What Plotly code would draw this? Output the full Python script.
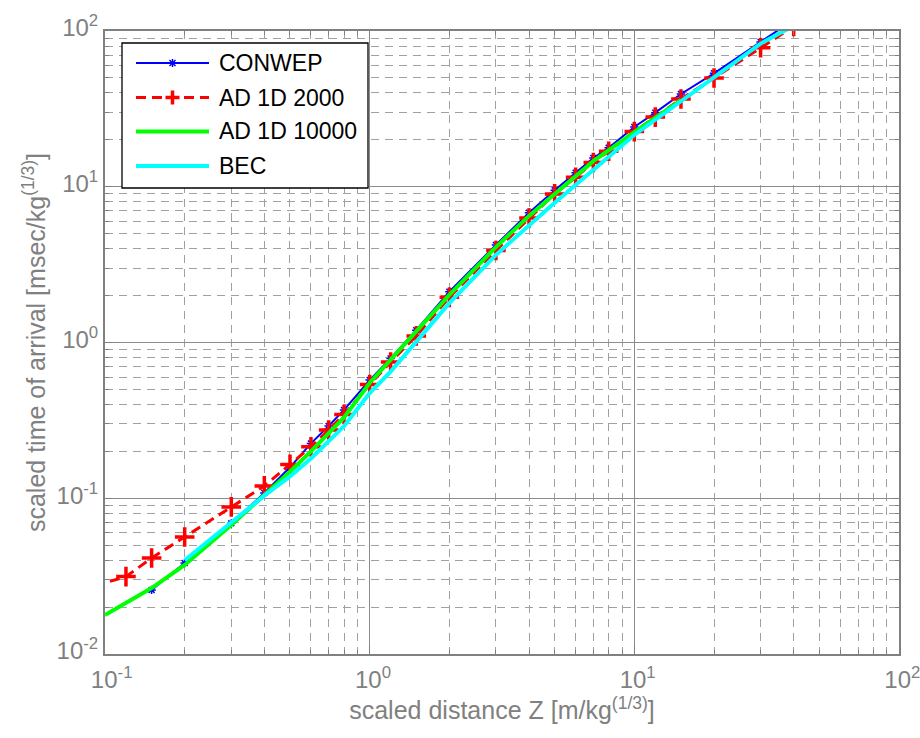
import plotly.graph_objects as go

# ---------------- data ----------------
conwep_x = [0.15, 0.2, 0.3, 0.4, 0.5, 0.6, 0.7, 0.8, 1.0, 1.2, 1.5, 2, 3, 4, 5, 6, 7, 8, 10, 12, 15, 20, 30, 40]
conwep_y = [0.0258, 0.0384, 0.069, 0.108, 0.158, 0.225, 0.291, 0.369, 0.574, 0.79, 1.2, 2.12, 4.23, 6.82, 9.5,
            12.3, 15.3, 17.8, 24.2, 29.9, 39.4, 53.5, 85, 118]

ad2000_x = [0.08, 0.12, 0.15, 0.2, 0.3, 0.4, 0.5, 0.6, 0.7, 0.8, 1.0, 1.2, 1.5, 2, 3, 4, 5, 6, 7, 8, 10, 12, 15, 20, 30, 40]
ad2000_y = [0.0255, 0.0314, 0.0413, 0.0564, 0.088, 0.12, 0.165, 0.214, 0.274, 0.345, 0.537, 0.75, 1.1, 1.95, 3.9,
            6.3, 9.0, 11.5, 14.3, 16.9, 22.6, 28, 36.6, 49.9, 78, 107]

ad10000_x = [0.1, 0.15, 0.2, 0.3, 0.4, 0.5, 0.6, 0.8, 1.0, 1.2, 1.5, 2, 3, 4, 5, 7, 10, 15]
ad10000_y = [0.0178, 0.0265, 0.0373, 0.0673, 0.105, 0.148, 0.2, 0.33, 0.55, 0.78, 1.18, 2.02, 4.1, 6.5, 9.0,
             14.6, 22.4, 36]

bec_x = [0.2, 0.3, 0.4, 0.5, 0.6, 0.8, 1.0, 1.2, 1.5, 2, 3, 5, 10, 20, 30, 40]
bec_y = [0.040, 0.0706, 0.104, 0.138, 0.18, 0.29, 0.474, 0.65, 1.02, 1.79, 3.65, 7.9, 21.5, 50.9, 83, 108]

series_names = ["CONWEP", "AD 1D 2000", "AD 1D 10000", "BEC"]

x_tickvals = [0.1, 1, 10, 100]
x_ticktext = ["&nbsp;&nbsp;10<sup>-1</sup>", "&nbsp;10<sup>0</sup>", "&nbsp;10<sup>1</sup>", "&nbsp;10<sup>2</sup>"]
y_tickvals = [0.01, 0.1, 1, 10, 100]
y_ticktext = ["10<sup>-2</sup>", "10<sup>-1</sup>", "10<sup>0</sup>", "10<sup>1</sup>", "10<sup>2</sup>"]

x_title = "scaled distance Z [m/kg<sup>(1/3)</sup>]"
y_title = "scaled time of arrival [msec/kg<sup>(1/3)</sup>]"

# ---------------- styling ----------------
FONT = "Liberation Sans, Arial, sans-serif"
GRAY = "#808080"
BLUE, RED, GREEN, CYAN = "#0000ff", "#ff0000", "#00ff00", "#00ffff"

minor_x = [m * d for d in (0.1, 1, 10) for m in range(2, 10)]
minor_y = [m * d for d in (0.01, 0.1, 1, 10) for m in range(2, 10)]

fig = go.Figure()
fig.add_trace(go.Scatter(x=conwep_x, y=conwep_y, mode="lines+markers", name=series_names[0],
                         line=dict(color=BLUE, width=2),
                         marker=dict(symbol="asterisk-open", size=7, line=dict(color=BLUE, width=1.5))))
fig.add_trace(go.Scatter(x=ad2000_x, y=ad2000_y, mode="lines+markers", name=series_names[1],
                         line=dict(color=RED, width=3, dash="10px,6px"),
                         marker=dict(symbol="cross-thin-open", size=14, line=dict(color=RED, width=3.5))))
fig.add_trace(go.Scatter(x=ad10000_x, y=ad10000_y, mode="lines", name=series_names[2],
                         line=dict(color=GREEN, width=4)))
fig.add_trace(go.Scatter(x=bec_x, y=bec_y, mode="lines", name=series_names[3],
                         line=dict(color=CYAN, width=4)))

axis_common = dict(
    type="log", showline=True, linecolor=GRAY, linewidth=2, mirror="allticks",
    ticks="inside", ticklen=8, tickwidth=1, tickcolor=GRAY,
    showgrid=True, gridcolor="#8c8c8c", gridwidth=1,
    tickfont=dict(family=FONT, size=24, color=GRAY),
    zeroline=False, ticklabeloverflow="allow", automargin=False,
)

fig.update_xaxes(**axis_common, range=[-1, 2], tickmode="array", tickvals=x_tickvals, ticktext=x_ticktext,
                 ticklabelstandoff=3,
                 minor=dict(tickmode="array", tickvals=minor_x, ticks="inside", ticklen=4, tickcolor=GRAY,
                            showgrid=True, gridcolor="#a0a0a0", griddash="8px,6px", gridwidth=1),
                 title=dict(text=x_title, font=dict(family=FONT, size=25, color=GRAY), standoff=10))
fig.update_yaxes(**axis_common, range=[-2, 2], tickmode="array", tickvals=y_tickvals, ticktext=y_ticktext,
                 ticklabelshift=-3,
                 minor=dict(tickmode="array", tickvals=minor_y, ticks="inside", ticklen=4, tickcolor=GRAY,
                            showgrid=True, gridcolor="#a0a0a0", griddash="8px,6px", gridwidth=1),
                 title=dict(text=y_title, font=dict(family=FONT, size=25, color=GRAY), standoff=4))

# ---------------- custom legend (MATLAB style) ----------------
PX0, PX1, PY0, PY1 = 105, 899, 31, 654


def px(x):
    return (x - PX0) / (PX1 - PX0)


def py(y):
    return (PY1 - y) / (PY1 - PY0)


shapes = [dict(type="rect", xref="paper", yref="paper", x0=px(122), x1=px(368), y0=py(188), y1=py(43),
               line=dict(color="black", width=1.3), fillcolor="white", layer="above")]
annotations = []
row_y = [63, 97.5, 131.5, 166]
styles = [dict(color=BLUE, width=2), dict(color=RED, width=3, dash="10px,6px"),
          dict(color=GREEN, width=4), dict(color=CYAN, width=4)]
for i, name in enumerate(series_names):
    yc = row_y[i]
    shapes.append(dict(type="line", xref="paper", yref="paper", x0=px(136), x1=px(209), y0=py(yc), y1=py(yc),
                       line=styles[i], layer="above"))
    annotations.append(dict(xref="paper", yref="paper", x=px(217), y=py(yc), text=name, showarrow=False,
                            xanchor="left", yanchor="middle", font=dict(family=FONT, size=23, color="black")))
# asterisk marker for CONWEP
cx, cy, r = 172.5, row_y[0], 4
for dx, dy in [(r, 0), (0, r), (r * 0.75, r * 0.75), (r * 0.75, -r * 0.75)]:
    shapes.append(dict(type="line", xref="paper", yref="paper", x0=px(cx - dx), x1=px(cx + dx),
                       y0=py(cy - dy), y1=py(cy + dy), line=dict(color=BLUE, width=1.5), layer="above"))
# plus marker for AD 1D 2000
cx, cy, r = 172.5, row_y[1], 7
for dx, dy in [(r, 0), (0, r)]:
    shapes.append(dict(type="line", xref="paper", yref="paper", x0=px(cx - dx), x1=px(cx + dx),
                       y0=py(cy - dy), y1=py(cy + dy), line=dict(color=RED, width=3.5), layer="above"))

fig.update_layout(
    width=920, height=738, autosize=False,
    margin=dict(l=PX0, r=920 - PX1, t=PY0, b=738 - PY1),
    paper_bgcolor="white", plot_bgcolor="white",
    showlegend=False, shapes=shapes, annotations=annotations,
    font=dict(family=FONT),
)

fig.write_html("out.html")
